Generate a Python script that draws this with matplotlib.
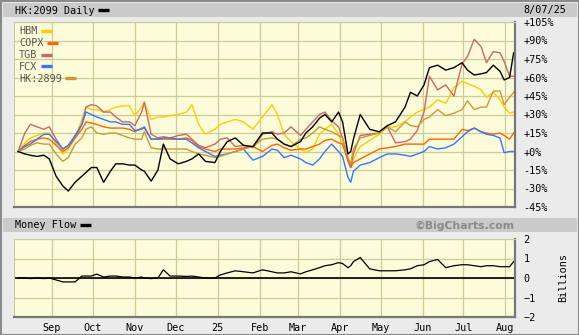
import numpy as np
import pandas as pd
import matplotlib
matplotlib.use("Agg")
import matplotlib.pyplot as plt
from matplotlib.patches import Rectangle
from matplotlib.lines import Line2D

# sample dates (roughly every few trading days)
dates = pd.to_datetime([
    "2024-08-07", "2024-08-12", "2024-08-16", "2024-08-21", "2024-08-26", "2024-08-30",
    "2024-09-04", "2024-09-09", "2024-09-13", "2024-09-18", "2024-09-23", "2024-09-26",
    "2024-09-30", "2024-10-04", "2024-10-09", "2024-10-14", "2024-10-18", "2024-10-23",
    "2024-10-28", "2024-11-01", "2024-11-06", "2024-11-08", "2024-11-13", "2024-11-18",
    "2024-11-22", "2024-11-27", "2024-12-03", "2024-12-09", "2024-12-13", "2024-12-18",
    "2024-12-23", "2024-12-30", "2025-01-03", "2025-01-08", "2025-01-14", "2025-01-20",
    "2025-01-27", "2025-02-03", "2025-02-10", "2025-02-14", "2025-02-19", "2025-02-24",
    "2025-03-03", "2025-03-07", "2025-03-12", "2025-03-17", "2025-03-21", "2025-03-26",
    "2025-03-31", "2025-04-03", "2025-04-07", "2025-04-09", "2025-04-11", "2025-04-16",
    "2025-04-23", "2025-04-30", "2025-05-06", "2025-05-12", "2025-05-19", "2025-05-23",
    "2025-05-28", "2025-06-02", "2025-06-06", "2025-06-12", "2025-06-18", "2025-06-24",
    "2025-06-30", "2025-07-04", "2025-07-09", "2025-07-14", "2025-07-18", "2025-07-23",
    "2025-07-28", "2025-07-31", "2025-08-04", "2025-08-07"])

# % change since start
hk2099 = [0, -2, -3, -4, -3, -6, -20, -28, -32, -25, -20, -17, -13, -13, -25, -16, -10, -10,
          -11, -11, -15, -16, -24, -15, 6, -6, -10, -8, -6, -2, -8, -9, 0, 8, 11, 5, 4, 15,
          15, 10, 6, 4, 8, 15, 20, 27, 30, 24, 32, 24, -2, 0, 10, 30, 18, 16, 21, 24, 36, 48,
          45, 54, 68, 70, 66, 68, 72, 66, 62, 63, 64, 70, 65, 58, 60, 80]
hbm = [0, 7, 11, 13, 15, 15, 6, -2, 2, 11, 26, 36, 34, 34, 32, 34, 36, 37, 37, 29, 36, 40,
       26, 28, 28, 29, 30, 32, 38, 22, 14, 18, 22, 24, 26, 24, 18, 28, 38, 30, 14, 8, 2, -1,
       2, 14, 18, 22, 14, 6, -6, -12, -6, 4, 9, 14, 20, 20, 24, 28, 32, 34, 36, 42, 39, 52,
       57, 55, 53, 50, 44, 48, 42, 36, 31, 32]
copx = [0, 5, 8, 10, 11, 10, 5, 0, 3, 11, 18, 24, 23, 22, 20, 19, 19, 19, 18, 16, 19, 19,
        10, 10, 10, 10, 10, 11, 9, 4, 2, 0, 2, 2, 2, 3, 4, 0, 5, 6, 3, 1, 2, 2, 4, 6, 9, 10,
        7, 6, -8, -13, -9, -6, -2, 2, 3, 4, 6, 6, 6, 6, 10, 10, 10, 10, 18, 17, 19, 16, 15,
        14, 15, 13, 10, 15]
tgb = [0, 15, 22, 20, 18, 20, 10, 2, 5, 11, 22, 36, 38, 37, 32, 32, 28, 24, 24, 21, 32, 40,
       14, 11, 12, 11, 13, 14, 10, 5, 3, 6, 10, 11, 4, 5, 3, 14, 16, 14, 15, 20, 13, 18, 24,
       30, 32, 25, 20, 11, -6, -13, -2, 13, 14, 15, 20, 7, 8, 10, 17, 32, 61, 50, 54, 45, 71,
       77, 91, 85, 72, 81, 80, 73, 61, 61]
fcx = [0, 4, 6, 10, 14, 14, 8, 2, 5, 13, 22, 32, 30, 28, 26, 24, 24, 22, 22, 17, 18, 20,
       10, 10, 11, 11, 10, 10, 7, 3, 0, -4, -3, -2, 0, 2, -7, -4, 2, 1, -5, -3, -6, -9, -11,
       -6, 0, 6, 0, -4, -21, -25, -16, -11, -9, -5, -2, -2, -3, -4, -2, 0, 4, 2, 3, 6, 12,
       16, 19, 16, 14, 13, 11, -1, 0, 0]
hk2899 = [0, 2, 5, 7, 6, 6, -2, -8, -5, 6, 11, 18, 20, 15, 14, 15, 15, 13, 11, 10, 10, 16,
          3, 2, 2, 2, 2, 2, 0, -2, -3, -5, -4, -2, 0, 2, 4, 10, 11, 10, 6, 4, 10, 11, 15, 20,
          18, 16, 13, 11, -5, -10, 2, 11, 13, 15, 20, 16, 24, 21, 20, 26, 28, 34, 29, 31, 34,
          41, 34, 36, 36, 49, 49, 38, 44, 48]
# money flow, billions
money_flow = [0, 0, -0.03, 0, -0.03, 0, -0.1, -0.2, -0.2, -0.2, 0.1, 0.1, 0.1, 0.2, 0.05,
              0.1, 0.1, 0.05, 0.05, 0, 0.05, 0, -0.03, 0, 0.42, 0.1, 0.1, 0.08, 0.1, 0.05, 0,
              0, 0.16, 0.26, 0.37, 0.32, 0.26, 0.42, 0.32, 0.26, 0.26, 0.32, 0.21, 0.32, 0.42,
              0.53, 0.63, 0.68, 0.79, 0.74, 0.53, 0.63, 0.84, 1.05, 0.47, 0.37, 0.37, 0.37,
              0.42, 0.47, 0.63, 0.68, 0.84, 0.95, 0.53, 0.63, 0.68, 0.68, 0.63, 0.58, 0.63,
              0.63, 0.58, 0.58, 0.58, 0.84]

comp_names = ["HBM", "COPX", "TGB", "FCX", "HK:2899"]
comp_data = [hbm, copx, tgb, fcx, hk2899]
comp_colors = ["#ffcc00", "#ff6600", "#cc6666", "#3377ff", "#cc9933"]

month_ticks = pd.to_datetime(["2024-09-01", "2024-10-01", "2024-11-01", "2024-12-01",
                              "2025-01-01", "2025-02-01", "2025-03-01", "2025-04-01",
                              "2025-05-01", "2025-06-01", "2025-07-01", "2025-08-01"])
month_labels = ["Sep", "Oct", "Nov", "Dec", "25", "Feb", "Mar", "Apr", "May", "Jun", "Jul", "Aug"]
pct_ticks = list(range(-45, 106, 15))
pct_labels = [("+%d%%" % v) if v >= 0 else ("%d%%" % v) for v in pct_ticks]
flow_ticks = [-2, -1, 0, 1, 2]

W, H = 579, 335
FONT = "DejaVu Sans Mono"
FS = 7.3
GRID = "#cccc99"
PANEL = "#fcfcda"
SHADOW = "#777777"

plt.rcParams["font.family"] = FONT


def box(x0, y0, x1, y1):
    return [x0 / W, 1 - y1 / H, (x1 - x0) / W, (y1 - y0) / H]


def swatch(x0, y, color):
    fig.add_artist(Line2D([x0 / W, (x0 + 11) / W], [1 - y / H] * 2, color=color,
                          lw=2.4, solid_capstyle="butt"))


fig = plt.figure(figsize=(W / 100, H / 100), dpi=100, facecolor="#ebebeb")

# header bars
for y0, y1 in [(3, 17), (218, 232)]:
    fig.add_artist(Rectangle((3 / W, 1 - y1 / H), 574 / W, (y1 - y0) / H,
                             transform=fig.transFigure, facecolor="#cacaca", edgecolor="none"))
fig.add_artist(Rectangle((0.5 / W, 0.5 / H), (W - 1) / W, (H - 1) / H, transform=fig.transFigure,
                         facecolor="none", edgecolor="#8a8a8a", lw=1.5))

fig.text(15 / W, 1 - 10.5 / H, "HK:2099 Daily", fontsize=FS, va="center", ha="left")
swatch(98, 10, "black")
fig.text(523 / W, 1 - 10.5 / H, "8/07/25", fontsize=FS, va="center", ha="left")
fig.text(15 / W, 1 - 225.5 / H, "Money Flow", fontsize=FS, va="center", ha="left")
swatch(80, 225, "black")
fig.text(515 / W, 1 - 225.5 / H, "\u00a9BigCharts.com", fontsize=7.8, va="center", ha="right",
         color="#8a8a8a", fontweight="bold", family="DejaVu Sans")

xlim = (pd.Timestamp("2024-08-04"), pd.Timestamp("2025-08-08"))

# price comparison panel
ax = fig.add_axes(box(14, 22, 515, 207))
ax.set_facecolor(PANEL)
for name, vals, col in zip(comp_names, comp_data, comp_colors):
    ax.plot(dates, vals, color=col, lw=1.0)
ax.plot(dates, hk2099, color="black", lw=1.0)
ax.set_xlim(*xlim)
ax.set_ylim(-45, 105)
ax.set_xticks(month_ticks)
ax.set_xticklabels([])
ax.set_yticks(pct_ticks)
ax.set_yticklabels(pct_labels)
ax.yaxis.tick_right()
ax.tick_params(length=0, labelsize=FS, pad=6)
ax.grid(True, color=GRID, lw=0.9)
ax.set_axisbelow(True)
for s in ["top", "left"]:
    ax.spines[s].set_color(GRID)
for s in ["bottom", "right"]:
    ax.spines[s].set_color(SHADOW)
    ax.spines[s].set_linewidth(1.6)

for i, (name, col) in enumerate(zip(comp_names, comp_colors)):
    y = 31 + i * 11.8
    fig.text(19 / W, 1 - (y + 0.5) / H, name, fontsize=FS, va="center", ha="left", color="#555555")
    swatch(19 + len(name) * 6.0 + 4, y, col)

# money flow panel
ax2 = fig.add_axes(box(14, 239, 515, 317))
ax2.set_facecolor(PANEL)
ax2.axhline(0, color="black", lw=1.2)
ax2.plot(dates, money_flow, color="black", lw=0.9)
ax2.set_xlim(*xlim)
ax2.set_ylim(-2, 2)
ax2.set_xticks(month_ticks)
ax2.set_xticklabels(month_labels)
ax2.set_yticks(flow_ticks)
ax2.yaxis.tick_right()
ax2.tick_params(length=0, labelsize=FS)
ax2.tick_params(axis="y", pad=6)
ax2.tick_params(axis="x", pad=4)
ax2.grid(True, color=GRID, lw=0.9)
ax2.set_axisbelow(True)
for s in ["top", "left"]:
    ax2.spines[s].set_color(GRID)
for s in ["bottom", "right"]:
    ax2.spines[s].set_color(SHADOW)
    ax2.spines[s].set_linewidth(1.6)
fig.text(563 / W, 1 - 278 / H, "Billions", fontsize=FS, rotation=90, va="center", ha="center")

fig.savefig("out.png", dpi=100, facecolor=fig.get_facecolor())
